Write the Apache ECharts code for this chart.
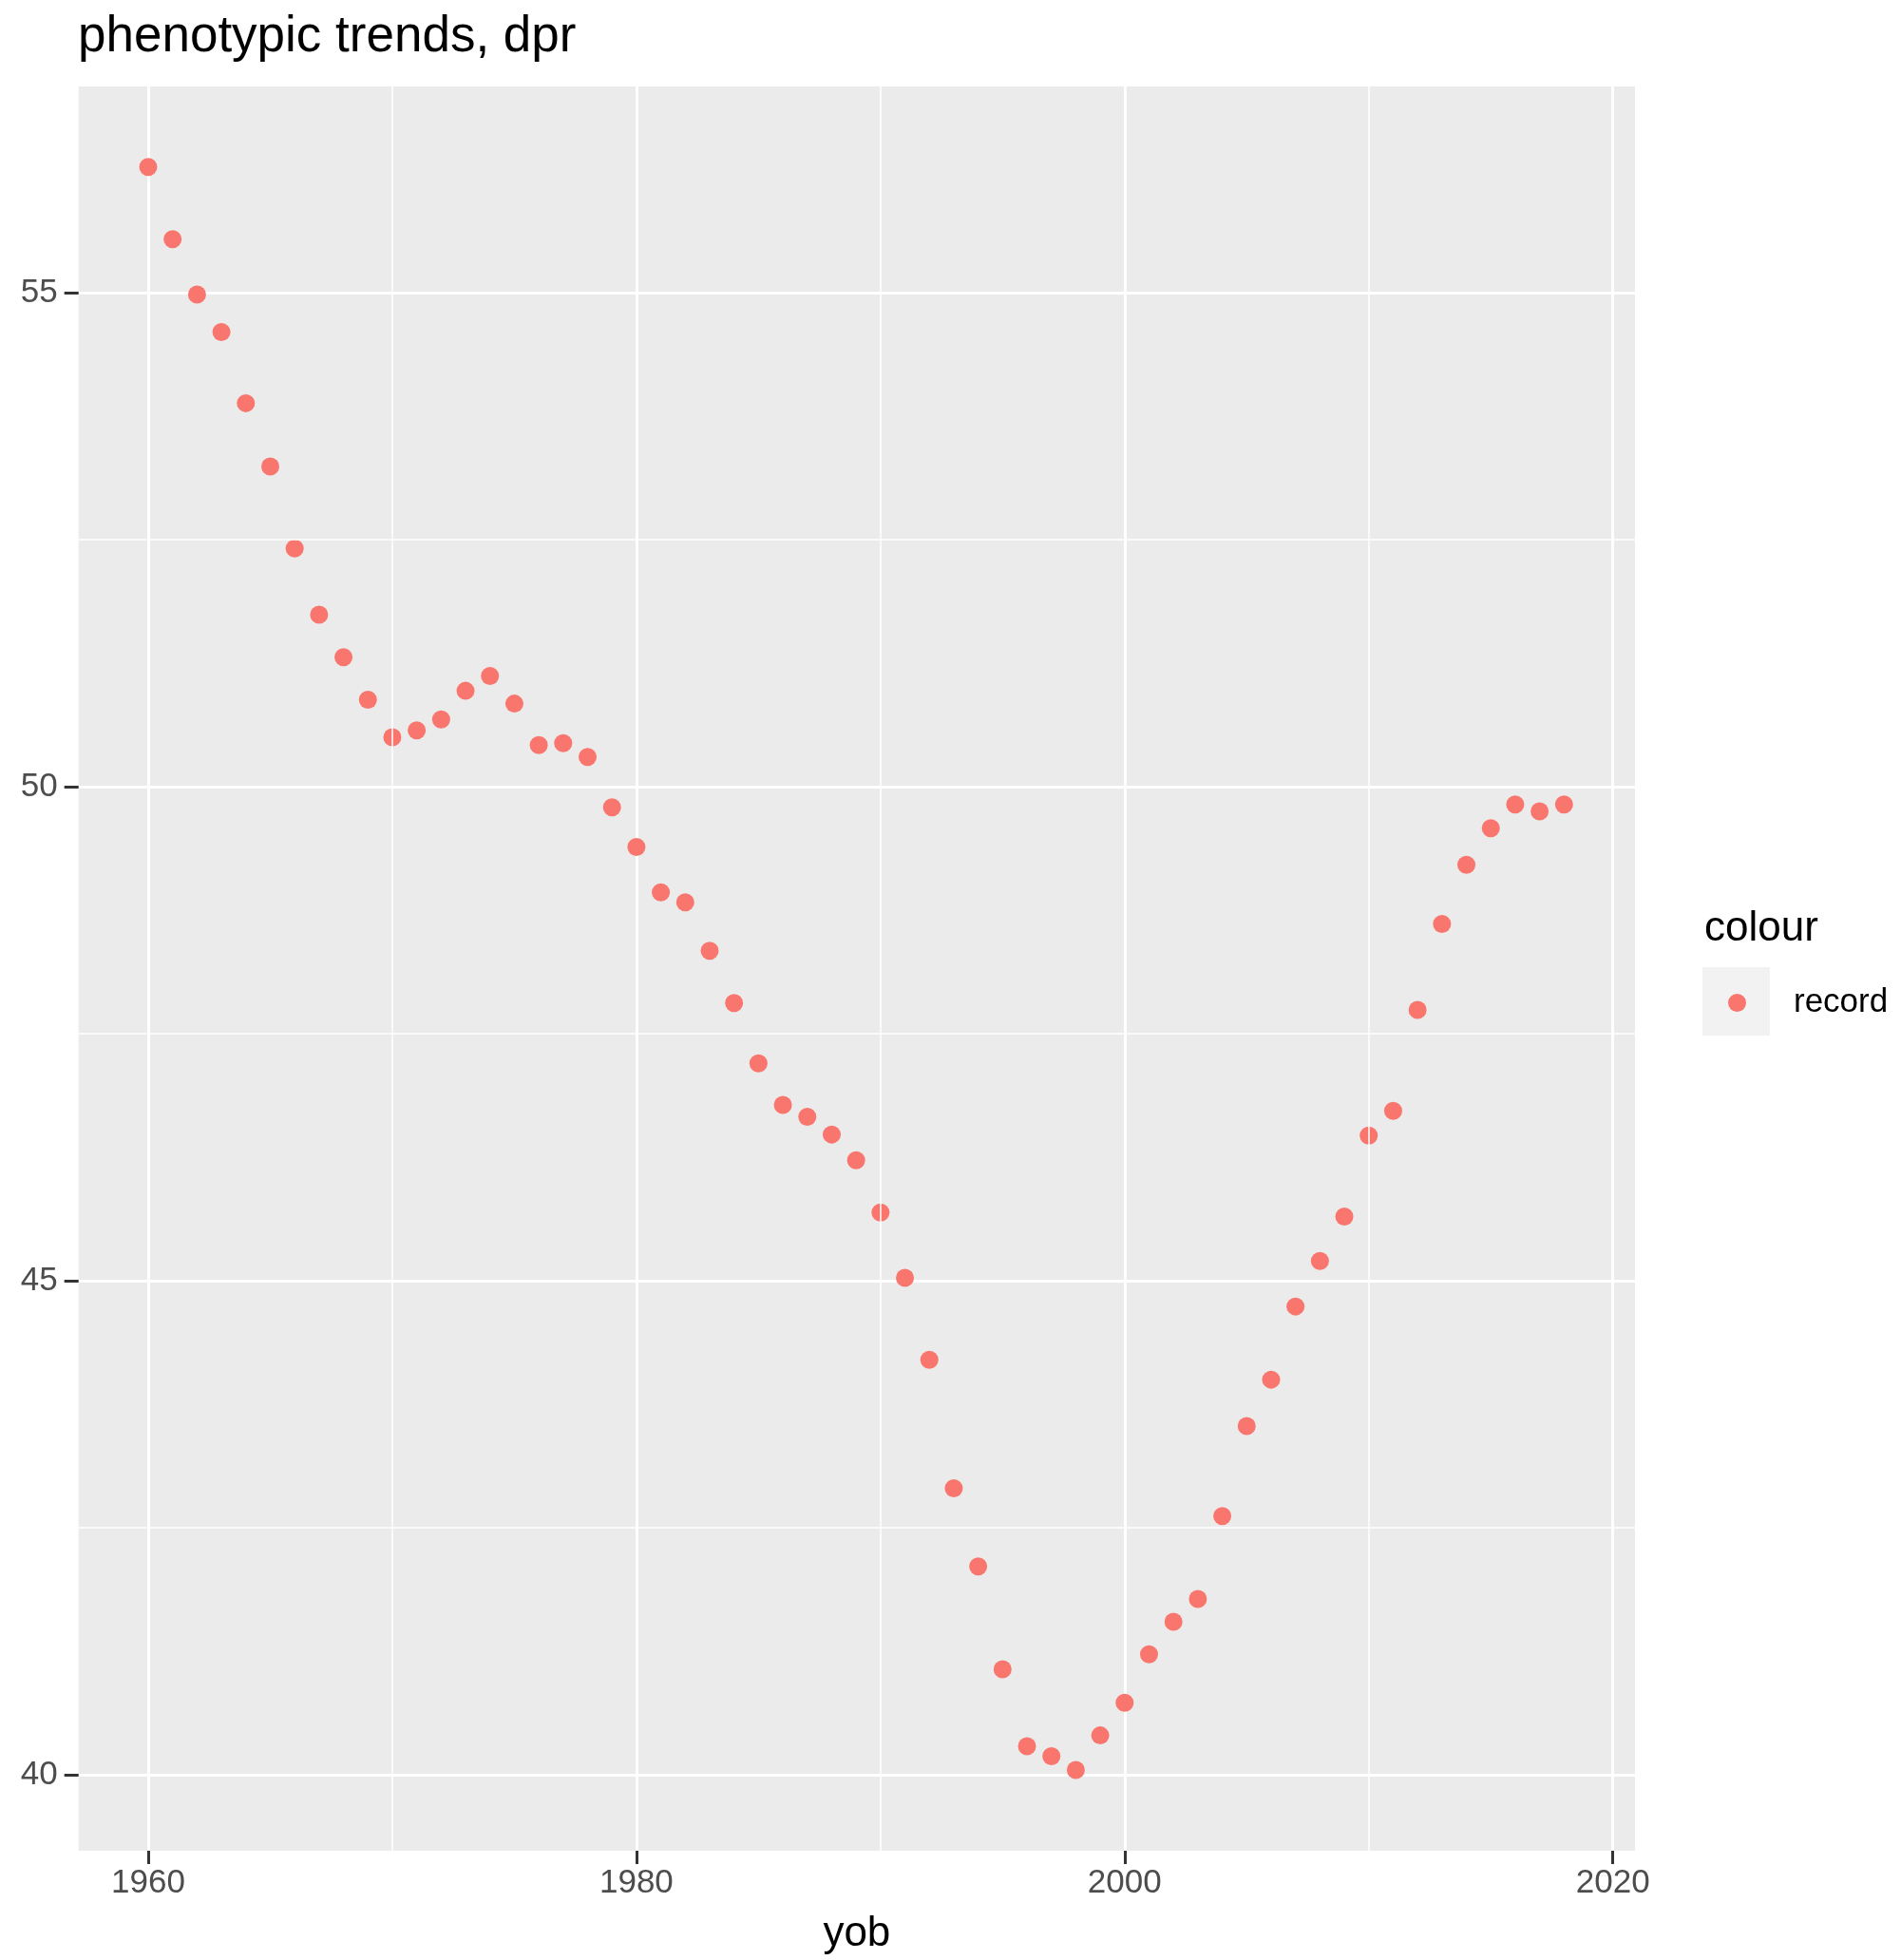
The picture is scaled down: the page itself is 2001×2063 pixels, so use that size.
<!DOCTYPE html>
<html>
<head>
<meta charset="utf-8">
<script src="https://cdn.jsdelivr.net/npm/echarts@6/dist/echarts.min.js"></script>
<style>
html,body{margin:0;padding:0;background:#ffffff;}
#c{width:2001px;height:2063px;}
</style>
</head>
<body>
<div id="c"></div>
<script>
// ---- data ----
const years = [1960,1961,1962,1963,1964,1965,1966,1967,1968,1969,
               1970,1971,1972,1973,1974,1975,1976,1977,1978,1979,
               1980,1981,1982,1983,1984,1985,1986,1987,1988,1989,
               1990,1991,1992,1993,1994,1995,1996,1997,1998,1999,
               2000,2001,2002,2003,2004,2005,2006,2007,2008,2009,
               2010,2011,2012,2013,2014,2015,2016,2017,2018];
const dprRecord = [56.27,55.54,54.98,54.60,53.88,53.24,52.41,51.74,51.31,50.88,
                   50.50,50.57,50.68,50.97,51.12,50.84,50.42,50.44,50.30,49.79,
                   49.39,48.93,48.83,48.34,47.81,47.20,46.78,46.66,46.48,46.22,
                   45.69,45.03,44.20,42.90,42.11,41.07,40.29,40.19,40.05,40.40,
                   40.73,41.22,41.55,41.78,42.62,43.53,44.00,44.74,45.20,45.65,
                   46.47,46.72,47.74,48.61,49.21,49.58,49.82,49.75,49.82];
const xTickLabels = [1960,1980,2000,2020];
const xMinorBreaks = [1970,1990,2010];
const yTickLabels = [40,45,50,55];
const yMinorBreaks = [42.5,47.5,52.5];
const seriesName = 'record';

const FONT = '"Liberation Sans", Arial, Helvetica, sans-serif';

const chart = echarts.init(document.getElementById('c'), null, {renderer:'canvas'});

const minorLines = xMinorBreaks.map(v => ({xAxis: v})).concat(yMinorBreaks.map(v => ({yAxis: v})));

const option = {
  animation: false,
  backgroundColor: '#ffffff',
  title: [
    {
      text: 'phenotypic trends, dpr',
      left: 77, top: 8,
      textStyle: {fontFamily: FONT, fontSize: 53, fontWeight: 'normal', color: '#000000'}
    },
    {
      text: 'colour',
      left: 1789, top: 951,
      textStyle: {fontFamily: FONT, fontSize: 44, fontWeight: 'normal', color: '#000000'}
    }
  ],
  legend: {
    data: [seriesName],
    orient: 'vertical',
    left: 1814, top: 1033,
    icon: 'circle',
    itemWidth: 19, itemHeight: 19,
    selectedMode: false,
    formatter: '{t|{name}}',
    textStyle: {
      fontFamily: FONT, fontSize: 35, color: '#000000',
      rich: {t: {fontFamily: FONT, fontSize: 35, color: '#000000', padding: [0, 0, 0, 45]}}
    }
  },
  graphic: [
    {type: 'rect', left: 1792, top: 1018, z: -1, silent: true,
     shape: {width: 71, height: 72}, style: {fill: '#F2F2F2'}}
  ],
  grid: {
    left: 82.7, right: 280, top: 91, bottom: 111.3,
    show: true, backgroundColor: '#EBEBEB', borderWidth: 0,
    containLabel: false
  },
  xAxis: {
    type: 'value',
    min: 1957.147, max: 2020.907,
    name: 'yob', nameLocation: 'middle', nameGap: 66,
    nameTextStyle: {fontFamily: FONT, fontSize: 44, color: '#000000'},
    axisLine: {show: false},
    axisTick: {show: true, length: 14, lineStyle: {color: '#333333', width: 3}, customValues: xTickLabels},
    axisLabel: {fontFamily: FONT, fontSize: 35, color: '#4D4D4D', margin: 17, customValues: xTickLabels,
                formatter: v => String(v)},
    splitLine: {show: true, lineStyle: {color: '#ffffff', width: 3}},
    minorSplitLine: {show: false}
  },
  yAxis: {
    type: 'value',
    min: 39.233, max: 57.085,
    axisLine: {show: false},
    axisTick: {show: true, length: 15, lineStyle: {color: '#333333', width: 3}, customValues: yTickLabels},
    axisLabel: {fontFamily: FONT, fontSize: 35, color: '#4D4D4D', margin: 22, customValues: yTickLabels,
                formatter: v => String(v)},
    splitLine: {show: true, lineStyle: {color: '#ffffff', width: 3}}
  },
  series: [
    {
      name: 'minor-grid',
      type: 'line',
      data: [],
      z: 1,
      silent: true,
      markLine: {
        silent: true, symbol: 'none', animation: false,
        label: {show: false},
        lineStyle: {color: '#ffffff', width: 1.5, type: 'solid'},
        emphasis: {disabled: true},
        data: minorLines
      }
    },
    {
      name: seriesName,
      type: 'scatter',
      z: 3,
      symbol: 'circle',
      symbolSize: 19,
      itemStyle: {color: '#F8766D', opacity: 1},
      data: years.map((y, i) => [y, dprRecord[i]])
    }
  ]
};
chart.setOption(option);
</script>
</body>
</html>
